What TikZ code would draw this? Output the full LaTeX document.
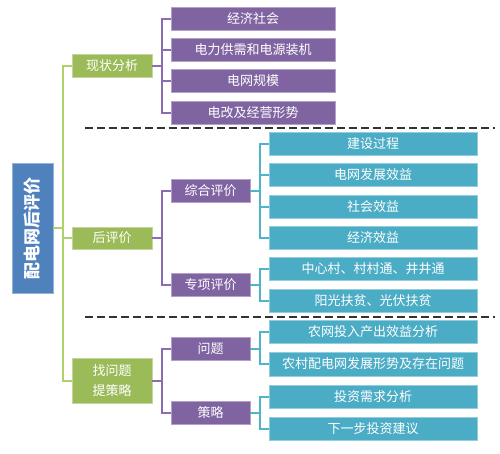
\documentclass[tikz,border=0pt]{standalone}
\usepackage{fontspec}
\setmainfont{Noto Sans CJK SC}
\definecolor{cgreen}{HTML}{9BBB59}
\definecolor{lgreen}{HTML}{AFD36B}
\definecolor{cpurple}{HTML}{8064A2}
\definecolor{lpurple}{HTML}{8A6DB0}
\definecolor{cteal}{HTML}{4BACC6}
\definecolor{lteal}{HTML}{4FB3CE}
\definecolor{cblue}{HTML}{4F81BD}
\begin{document}
\begin{tikzpicture}[x=1pt,y=-1pt,
  basebox/.style={inner sep=0pt, text=white, font=\fontsize{13}{20}\selectfont, align=center, line width=0.8pt},
  rootbox/.style={basebox, fill=cblue, draw=cblue!60!white, minimum width=41pt, minimum height=130pt, font=\fontsize{17}{20}\selectfont\bfseries},
  gbox/.style={basebox, fill=cgreen, draw=cgreen!60!white, minimum width=80pt, minimum height=23pt},
  pbox/.style={basebox, fill=cpurple, draw=cpurple!60!white, minimum width=164pt, minimum height=23pt},
  qbox/.style={basebox, fill=cpurple, draw=cpurple!60!white, minimum width=79pt, minimum height=23pt},
  tbox/.style={basebox, fill=cteal, draw=cteal!60!white, minimum width=208pt, minimum height=23pt},
  gline/.style={draw=lgreen, line width=2pt},
  pline/.style={draw=lpurple, line width=2pt},
  tline/.style={draw=lteal, line width=2pt},
  sepline/.style={draw=black!80, line width=2pt, dash pattern=on 8pt off 4pt}
]
\useasboundingbox (0,0) rectangle (500,453);
% root
\node[rootbox] (root) at (32.5,228) {\rotatebox{90}{配电网后评价}};
% level 1
\node[gbox] (g1) at (112,65.5) {现状分析};
\node[gbox, minimum height=22pt] (g2) at (112,238) {后评价};
\node[gbox, minimum height=45pt] (g3) at (112,380.5) {找问题\\提策略};
% level 2 top
\node[pbox] (p1) at (253,18.5) {经济社会};
\node[pbox] (p2) at (253,50) {电力供需和电源装机};
\node[pbox] (p3) at (253,81) {电网规模};
\node[pbox] (p4) at (253,113) {电改及经营形势};
% level 2 others
\node[qbox] (q1) at (210.5,190.5) {综合评价};
\node[qbox] (q2) at (210.5,284.5) {专项评价};
\node[qbox] (q3) at (210.5,348.5) {问题};
\node[qbox] (q4) at (210.5,413) {策略};
% level 3
\node[tbox] (t1) at (373,143.5) {建设过程};
\node[tbox] (t2) at (373,174.5) {电网发展效益};
\node[tbox] (t3) at (373,206.5) {社会效益};
\node[tbox] (t4) at (373,238) {经济效益};
\node[tbox] (t5) at (373,269) {中心村、村村通、井井通};
\node[tbox] (t6) at (373,300.5) {阳光扶贫、光伏扶贫};
\node[tbox] (t7) at (373,332) {农网投入产出效益分析};
\node[tbox, minimum height=24pt] (t8) at (373,364) {农村配电网发展形势及存在问题};
\node[tbox] (t9) at (373,397) {投资需求分析};
\node[tbox] (t10) at (373,428.5) {下一步投资建议};
% connectors
\foreach \c in {g1,g2,g3} \draw[gline] (root.east) -- ++(10,0) |- (\c.west);
\foreach \c in {p1,p2,p3,p4} \draw[pline] (g1.east) -- ++(10,0) |- (\c.west);
\foreach \c in {q1,q2} \draw[pline] (g2.east) -- ++(10,0) |- (\c.west);
\foreach \c in {q3,q4} \draw[pline] (g3.east) -- ++(10,0) |- (\c.west);
\foreach \c in {t1,t2,t3,t4} \draw[tline] (q1.east) -- ++(10,0) |- (\c.west);
\foreach \c in {t5,t6} \draw[tline] (q2.east) -- ++(10,0) |- (\c.west);
\foreach \c in {t7,t8} \draw[tline] (q3.east) -- ++(10,0) |- (\c.west);
\foreach \c in {t9,t10} \draw[tline] (q4.east) -- ++(10,0) |- (\c.west);
% separators
\draw[sepline] (85,128) -- (495,128);
\draw[sepline] (85,316.5) -- (495,316.5);
\end{tikzpicture}
\end{document}
